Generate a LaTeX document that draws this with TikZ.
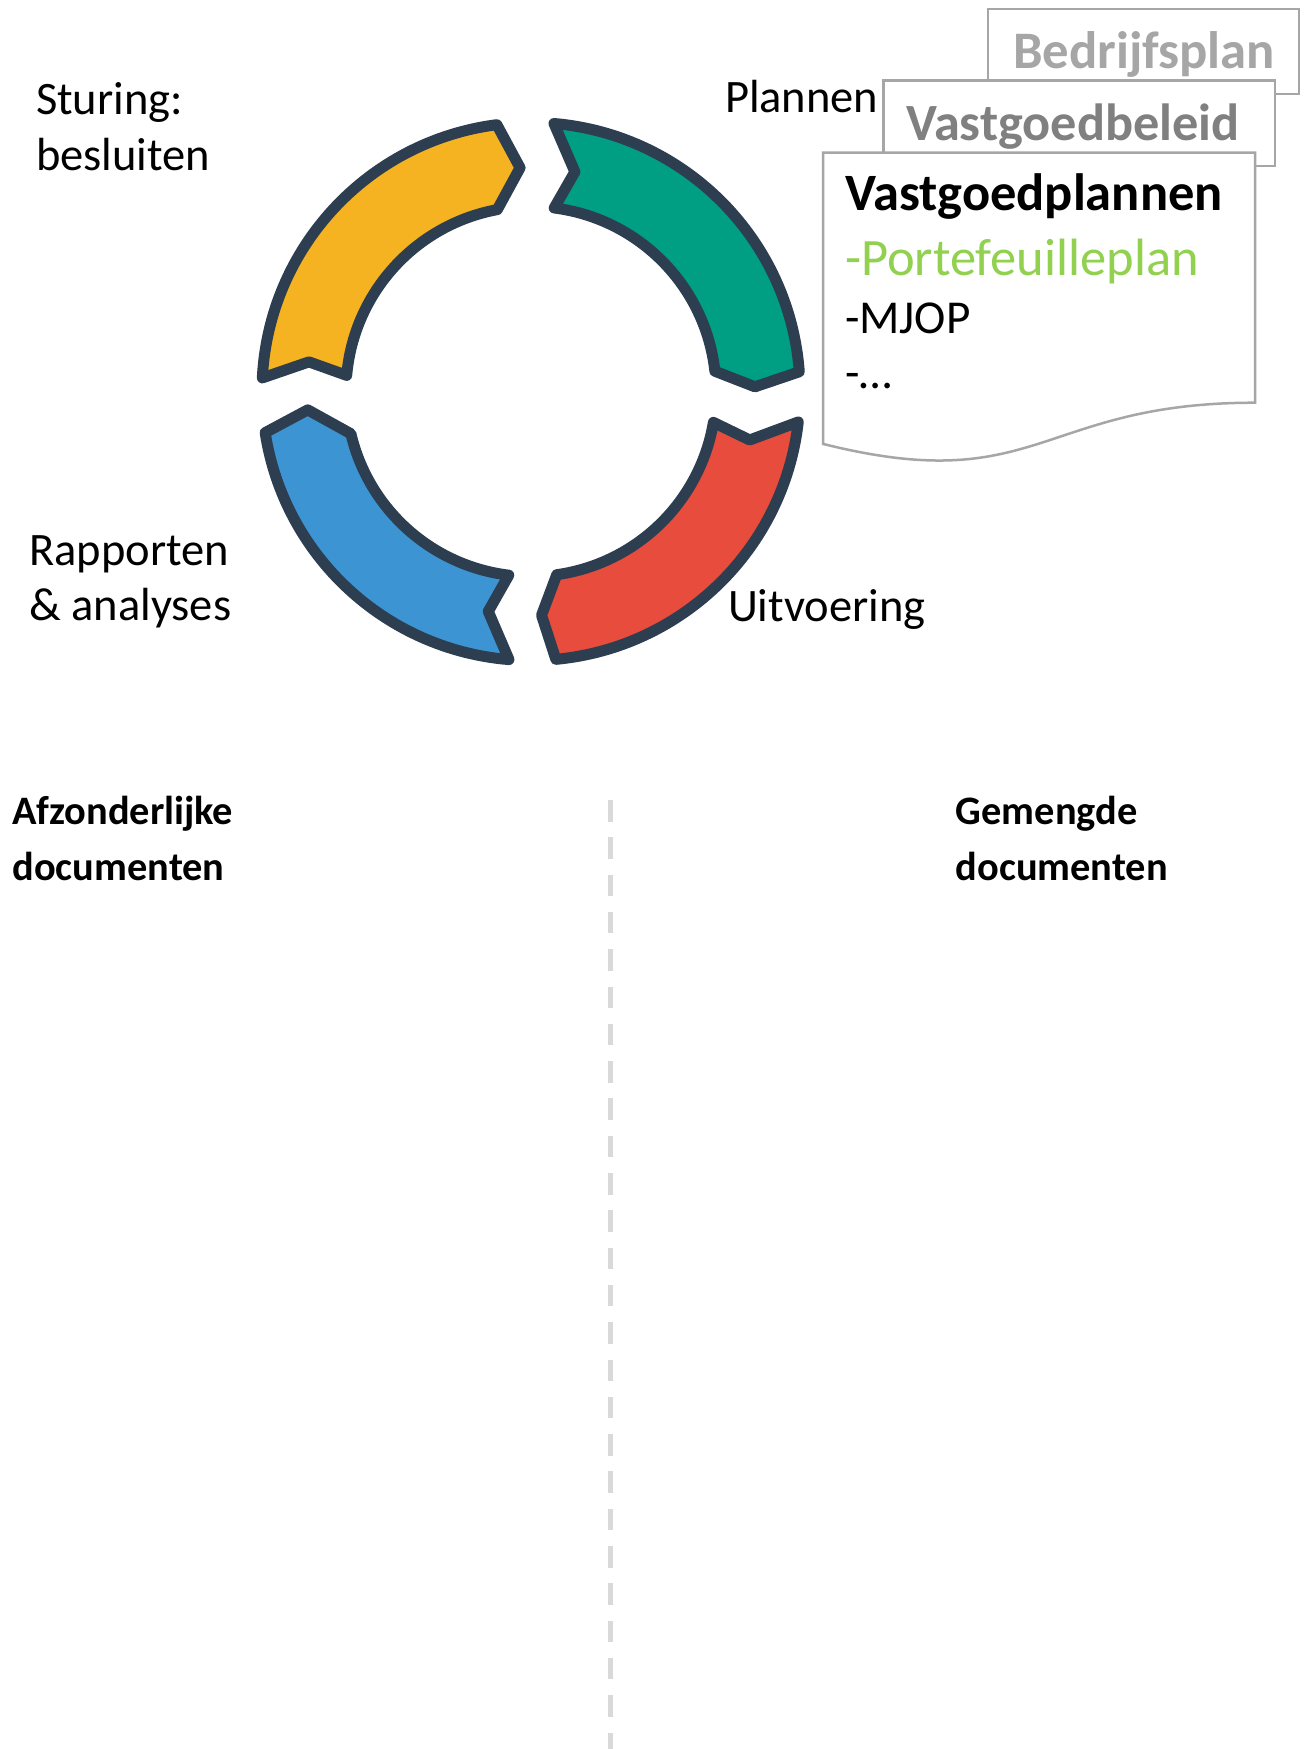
\documentclass[tikz,border=0pt]{standalone}
\usepackage{fontspec}
\setmainfont{Carlito}
\usetikzlibrary{calc}
\definecolor{ringline}{HTML}{2C3E50}
\definecolor{cyellow}{HTML}{F6B321}
\definecolor{cteal}{HTML}{009F84}
\definecolor{cred}{HTML}{E74C3C}
\definecolor{cblue}{HTML}{3D94D2}
\definecolor{boxgray}{HTML}{A6A6A6}
\definecolor{darkgray}{HTML}{808080}
\definecolor{pgreen}{HTML}{92D050}
\definecolor{dashgray}{HTML}{D9D9D9}
% #1 name, #2 colour, #3 tail outer, #4 tail inner, #5 notch, #6 head outer, #7 head inner, #8 tip
\newcommand\ringpiece[8]{%
  \filldraw[piece, fill=#2] ($(c)+(#3:\Ro)$) coordinate (#1-a)
    arc[start angle=#3, end angle=#6, radius=\Ro]
    -- ($(c)+(#8:\Rm)$) coordinate (#1-tip)
    -- ($(c)+(#7:\Ri)$)
    arc[start angle=#7, end angle=#4, radius=\Ri]
    -- ($(c)+(#5:\Rm)$) coordinate (#1-notch)
    -- cycle;}
\def\Ro{269}
\def\Ri{185}
\def\Rm{224}
\begin{document}
\begin{tikzpicture}[x=1pt,y=1pt,
  piece/.style={draw=ringline, line width=11pt, line join=round},
  lbl/.style={anchor=base west, inner sep=0pt, outer sep=0pt, font=\fontsize{46.5}{56}\selectfont},
  boldlbl/.style={anchor=base west, inner sep=0pt, outer sep=0pt, font=\fontsize{40.4}{48}\selectfont\bfseries},
  docbox/.style={draw=boxgray, line width=2.5pt, fill=white},
  doctext/.style={anchor=base west, inner sep=0pt, outer sep=0pt}]
\fill[white] (0,0) rectangle (1309,-1749);
\useasboundingbox (0,0) rectangle (1309,-1749);
\coordinate (c) at (531,-391.5);
% ring
\ringpiece{yellow}{cyellow}{177.1}{175}{172.4}{97.3}{100.5}{92.8}
\ringpiece{teal}{cteal}{85.1}{82.8}{78.7}{4.2}{6.3}{1.2}
\ringpiece{red}{cred}{-6.5}{-9.6}{-12.5}{-84.7}{-82}{-87.3}
\ringpiece{blue}{cblue}{-94.7}{-96.9}{-101}{-171.2}{-166.8}{-175.3}
% labels round the ring
\node[lbl] (sturing) at (36,-114) {Sturing:};
\node[lbl] (besluiten) at (36,-170) {besluiten};
\node[lbl] (plannen) at (725,-112.7) {Plannen};
\node[lbl] (rapporten) at (29.3,-565) {Rapporten};
\node[lbl] (analyses) at (29.3,-620) {\&\ analyses};
\node[lbl] (uitvoering) at (728,-621.6) {Uitvoering};
% stacked documents
\draw[docbox] (988,-9) rectangle (1299,-94);
\node[doctext, font=\fontsize{52.7}{60}\selectfont\bfseries, text=boxgray] (bedrijf) at (1013,-68.3) {Bedrijfsplan};
\draw[docbox] (883.5,-80.5) rectangle (1275,-166);
\node[doctext, font=\fontsize{52.3}{60}\selectfont\bfseries, text=darkgray] (beleid) at (906,-140) {Vastgoedbeleid};
\draw[docbox] (823,-152.5) -- (1255,-152.5) -- (1255,-402.7)
  .. controls (1039,-402.7) and (1039,-498) .. (823,-443.9) -- cycle;
\node[doctext, font=\fontsize{52.5}{60}\selectfont\bfseries] (vplannen) at (845,-210.7) {Vastgoedplannen};
\node[doctext, font=\fontsize{52.5}{60}\selectfont, text=pgreen] (portef) at (845,-275) {-Portefeuilleplan};
\node[doctext, font=\fontsize{47.2}{56}\selectfont] (mjop) at (845,-333.3) {-MJOP};
\node[doctext, font=\fontsize{47.2}{56}\selectfont] (etc) at (845,-388) {-\dots};
% lower part
\node[boldlbl] (afz1) at (12.5,-824.3) {Afzonderlijke};
\node[boldlbl] (afz2) at (12.5,-880) {documenten};
\node[boldlbl] (gem1) at (955.8,-824.3) {Gemengde};
\node[boldlbl] (gem2) at (955.8,-880) {documenten};
\coordinate (divtop) at (610.5,-800);
\coordinate (divbot) at (610.5,-1749);
\draw[dashgray, line width=5.5pt, dash pattern=on 21.5pt off 15.8pt] (divtop) -- (divbot);
\end{tikzpicture}
\end{document}
